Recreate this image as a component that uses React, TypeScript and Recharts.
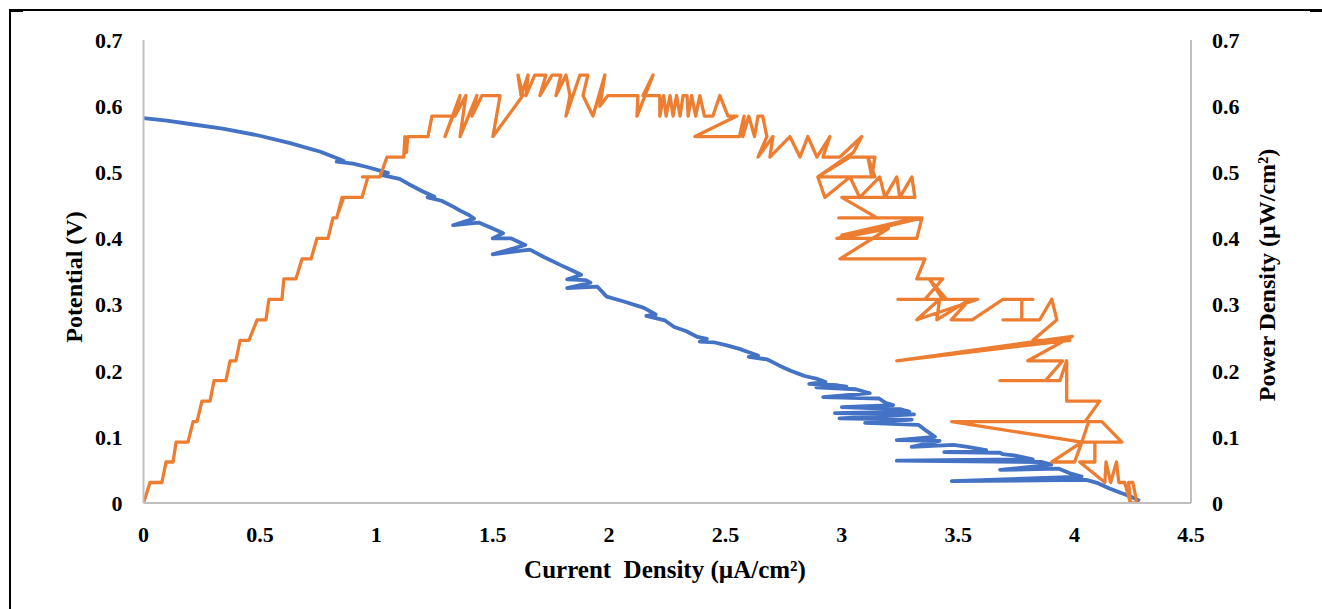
import React from 'react';
import { LineChart, Line, XAxis, YAxis } from 'recharts';

// Tick labels
const currentTicks = [0, 0.5, 1, 1.5, 2, 2.5, 3, 3.5, 4, 4.5];
const potentialTicks = [0, 0.1, 0.2, 0.3, 0.4, 0.5, 0.6, 0.7];
const powerTicks = [0, 0.1, 0.2, 0.3, 0.4, 0.5, 0.6, 0.7];

// Current density (µA/cm²) vs potential (V)
const potentialCurve: [number, number][] = [
  [0, 0.582], [0.1, 0.578], [0.2, 0.573], [0.34, 0.566], [0.49, 0.556], [0.63, 0.544],
  [0.76, 0.531], [0.84, 0.52], [0.86, 0.517], [0.83, 0.516], [0.9, 0.513], [0.96, 0.508],
  [1.05, 0.499], [1.02, 0.496], [1.1, 0.49], [1.14, 0.482], [1.2, 0.471], [1.25, 0.463],
  [1.22, 0.462], [1.28, 0.457], [1.33, 0.448], [1.36, 0.442], [1.4, 0.435], [1.42, 0.43],
  [1.33, 0.42], [1.44, 0.424], [1.5, 0.415], [1.545, 0.408], [1.5, 0.4], [1.58, 0.4],
  [1.64, 0.39], [1.5, 0.376], [1.66, 0.383], [1.72, 0.372], [1.79, 0.36], [1.84, 0.352],
  [1.88, 0.345], [1.82, 0.338], [1.9, 0.337], [1.92, 0.333], [1.82, 0.325], [1.95, 0.327],
  [1.99, 0.312], [2.06, 0.305], [2.15, 0.295], [2.2, 0.285], [2.16, 0.283], [2.24, 0.276],
  [2.28, 0.266], [2.33, 0.26], [2.38, 0.251], [2.42, 0.248], [2.39, 0.244], [2.45, 0.243],
  [2.51, 0.238], [2.56, 0.233], [2.6, 0.228], [2.64, 0.223], [2.6, 0.221], [2.68, 0.217],
  [2.73, 0.208], [2.78, 0.2], [2.81, 0.196], [2.84, 0.192], [2.89, 0.188], [2.93, 0.183],
  [2.86, 0.18], [2.98, 0.178], [3.02, 0.176], [2.89, 0.175], [3.06, 0.172], [3.12, 0.166],
  [2.92, 0.16], [3.16, 0.158], [3.19, 0.151], [3.22, 0.148], [3.0, 0.145], [3.25, 0.142],
  [3.29, 0.138], [2.97, 0.136], [3.31, 0.134], [2.99, 0.128], [3.3, 0.126], [3.1, 0.121],
  [3.33, 0.118], [3.36, 0.11], [3.4, 0.1], [3.236, 0.095], [3.42, 0.094], [3.3, 0.085],
  [3.48, 0.088], [3.54, 0.085], [3.62, 0.08], [3.44, 0.077], [3.68, 0.076], [3.69, 0.074],
  [3.74, 0.072], [3.82, 0.066], [3.236, 0.064], [3.86, 0.062], [3.9, 0.058], [3.68, 0.05],
  [3.93, 0.052], [3.98, 0.045], [4.03, 0.04], [3.472, 0.033], [4.05, 0.035], [4.1, 0.03],
  [4.15, 0.022], [4.2, 0.015], [4.24, 0.01], [4.28, 0.003],
];

// Current density (µA/cm²) vs power density (µW/cm²)
const powerCurve: [number, number][] = [
  [0, 0], [0.028, 0.031], [0.079, 0.031], [0.097, 0.062], [0.127, 0.062], [0.14, 0.092],
  [0.191, 0.092], [0.213, 0.123], [0.23, 0.123], [0.251, 0.154], [0.286, 0.154], [0.303, 0.185],
  [0.354, 0.185], [0.372, 0.215], [0.397, 0.215], [0.415, 0.246], [0.453, 0.246], [0.488, 0.277],
  [0.526, 0.277], [0.539, 0.308], [0.595, 0.308], [0.603, 0.339], [0.655, 0.339], [0.681, 0.369],
  [0.72, 0.369], [0.745, 0.4], [0.793, 0.4], [0.814, 0.431], [0.83, 0.431], [0.853, 0.462],
  [0.838, 0.44], [0.86, 0.462], [0.939, 0.462], [0.964, 0.493], [0.94, 0.493], [1.016, 0.493],
  [1.046, 0.523], [1.118, 0.523], [1.123, 0.554], [1.13, 0.53], [1.135, 0.554], [1.222, 0.554],
  [1.239, 0.585], [1.329, 0.585],
  [1.295, 0.554], [1.36, 0.616], [1.338, 0.585], [1.385, 0.616], [1.36, 0.554], [1.432, 0.616],
  [1.411, 0.585], [1.454, 0.616], [1.532, 0.616], [1.501, 0.554], [1.63, 0.616], [1.609, 0.647],
  [1.622, 0.616], [1.652, 0.647], [1.643, 0.616], [1.681, 0.647], [1.729, 0.647], [1.703, 0.616],
  [1.755, 0.647], [1.793, 0.647], [1.772, 0.616], [1.815, 0.647], [1.832, 0.616], [1.815, 0.585],
  [1.875, 0.647], [1.909, 0.647], [1.888, 0.616], [1.931, 0.585], [1.982, 0.647], [1.96, 0.6],
  [1.995, 0.616], [2.124, 0.616], [2.12, 0.585], [2.189, 0.647], [2.146, 0.616], [2.218, 0.616],
  [2.218, 0.585], [2.235, 0.616], [2.245, 0.585], [2.262, 0.616], [2.275, 0.585], [2.29, 0.616],
  [2.305, 0.585], [2.318, 0.616], [2.335, 0.616], [2.34, 0.585], [2.355, 0.616], [2.372, 0.585],
  [2.39, 0.616], [2.41, 0.585], [2.446, 0.585], [2.476, 0.616], [2.511, 0.585], [2.549, 0.585],
  [2.369, 0.554], [2.464, 0.554], [2.56, 0.554], [2.58, 0.585], [2.575, 0.554], [2.6, 0.585],
  [2.625, 0.554], [2.64, 0.585], [2.66, 0.585], [2.678, 0.554],
  [2.64, 0.523], [2.704, 0.554], [2.691, 0.523], [2.777, 0.554], [2.82, 0.523], [2.854, 0.554],
  [2.893, 0.523], [2.949, 0.554], [2.919, 0.523], [2.992, 0.523], [3.086, 0.554], [3.05, 0.53],
  [2.897, 0.493], [3.035, 0.523], [3.142, 0.523], [3.129, 0.493], [3.112, 0.523], [3.142, 0.493],
  [2.897, 0.493], [2.927, 0.462], [3.035, 0.493], [3.077, 0.462], [3.163, 0.493], [3.185, 0.462],
  [3.236, 0.493], [3.249, 0.462], [3.301, 0.493], [3.314, 0.462], [3.0, 0.462], [3.151, 0.431],
  [2.987, 0.431], [3.344, 0.431], [2.979, 0.4], [3.322, 0.431], [3.0, 0.405], [3.344, 0.431],
  [3.322, 0.4], [2.979, 0.4], [3.2, 0.415], [2.992, 0.369], [3.357, 0.369], [3.322, 0.339],
  [3.434, 0.339], [3.357, 0.308], [3.241, 0.308], [3.45, 0.308], [3.375, 0.339], [3.434, 0.308],
  [3.584, 0.308], [3.322, 0.277], [3.42, 0.308], [3.408, 0.277], [3.55, 0.308], [3.47, 0.277],
  [3.56, 0.277], [3.692, 0.308], [3.821, 0.308], [3.773, 0.308], [3.773, 0.277], [3.692, 0.277],
  [3.85, 0.277], [3.902, 0.308], [3.924, 0.277], [3.821, 0.246], [3.98, 0.246], [3.236, 0.215],
  [3.99, 0.252], [3.799, 0.215], [3.949, 0.215], [3.875, 0.185], [3.679, 0.185], [3.937, 0.185],
  [3.966, 0.215], [3.966, 0.154], [4.022, 0.154], [4.108, 0.154], [4.045, 0.123], [3.894, 0.123],
  [3.472, 0.123], [4.031, 0.092], [4.06, 0.123], [4.117, 0.123], [4.203, 0.092], [4.031, 0.092],
  [3.902, 0.062], [4.0, 0.062], [4.031, 0.092], [4.087, 0.092], [4.087, 0.062], [4.022, 0.062],
  [4.13, 0.031], [4.135, 0.062], [4.155, 0.031], [4.18, 0.062], [4.19, 0.031], [4.215, 0.031],
  [4.24, 0], [4.232, 0.031], [4.25, 0.031], [4.268, 0], [4.23, 0],
];

const potentialData = potentialCurve.map(([x, y]) => ({ x, y }));
const powerData = powerCurve.map(([x, y]) => ({ x, y }));

const FONT = '"Liberation Serif", "Times New Roman", serif';
const tickStyle = { fill: '#000', fontSize: 22, fontWeight: 'bold' as const, fontFamily: FONT };
const axisLineStyle = { stroke: '#BFBFBF', strokeWidth: 2 };
const fmt = (v: number) => (v === 0 ? '0' : String(Math.round(v * 10) / 10));

const titleStyle: React.CSSProperties = {
  position: 'absolute',
  fontFamily: FONT,
  fontWeight: 'bold',
  fontSize: 24,
  color: '#000',
  whiteSpace: 'pre',
  lineHeight: '26px',
  transform: 'translate(-50%, -50%)',
};

export default function App() {
  return (
    <div style={{ position: 'absolute', left: 0, top: 0, width: 1322, height: 609, background: '#fff', overflow: 'hidden' }}>
      <div style={{ position: 'absolute', left: 9, top: 9, width: 1313, height: 600, borderTop: '2px solid #000', borderLeft: '2px solid #000' }} />
      <div style={{ position: 'absolute', left: 9, top: 9, width: 14, height: 3, background: '#000' }} />
      <div style={{ position: 'absolute', left: 1310, top: 9, width: 12, height: 3, background: '#000' }} />
      <div style={{ position: 'absolute', left: 0, top: 0 }}>
        <LineChart width={1322} height={609} margin={{ top: 40, right: 0, bottom: 0, left: 0 }}>
          <XAxis
            type="number"
            dataKey="x"
            domain={[0, 4.5]}
            ticks={currentTicks}
            interval={0}
            height={106}
            tickLine={false}
            tickSize={0}
            tickMargin={23}
            axisLine={axisLineStyle}
            tick={tickStyle}
            tickFormatter={fmt}
            allowDataOverflow
          />
          <YAxis
            yAxisId="left"
            type="number"
            domain={[0, 0.7]}
            ticks={potentialTicks}
            interval={0}
            width={143.5}
            tickLine={false}
            tickSize={0}
            tickMargin={21}
            axisLine={axisLineStyle}
            tick={tickStyle}
            tickFormatter={fmt}
            allowDataOverflow
          />
          <YAxis
            yAxisId="right"
            orientation="right"
            type="number"
            domain={[0, 0.7]}
            ticks={powerTicks}
            interval={0}
            width={131}
            tickLine={false}
            tickSize={0}
            tickMargin={21}
            axisLine={axisLineStyle}
            tick={tickStyle}
            tickFormatter={fmt}
            allowDataOverflow
          />
          <Line
            yAxisId="left"
            data={potentialData}
            dataKey="y"
            type="linear"
            stroke="#4472C4"
            strokeWidth={3.8}
            strokeLinejoin="round"
            dot={false}
            activeDot={false}
            isAnimationActive={false}
          />
          <Line
            yAxisId="right"
            data={powerData}
            dataKey="y"
            type="linear"
            stroke="#ED7D31"
            strokeWidth={3.3}
            strokeLinejoin="round"
            dot={false}
            activeDot={false}
            isAnimationActive={false}
          />
        </LineChart>
      </div>
      <div style={{ ...titleStyle, fontSize: 25, left: 665, top: 570 }}>{'Current  Density (µA/cm²)'}</div>
      <div style={{ ...titleStyle, left: 74, top: 277, transform: 'translate(-50%, -50%) rotate(-90deg)' }}>Potential (V)</div>
      <div style={{ ...titleStyle, left: 1267, top: 275, transform: 'translate(-50%, -50%) rotate(-90deg)' }}>Power Density (µW/cm²)</div>
    </div>
  );
}
